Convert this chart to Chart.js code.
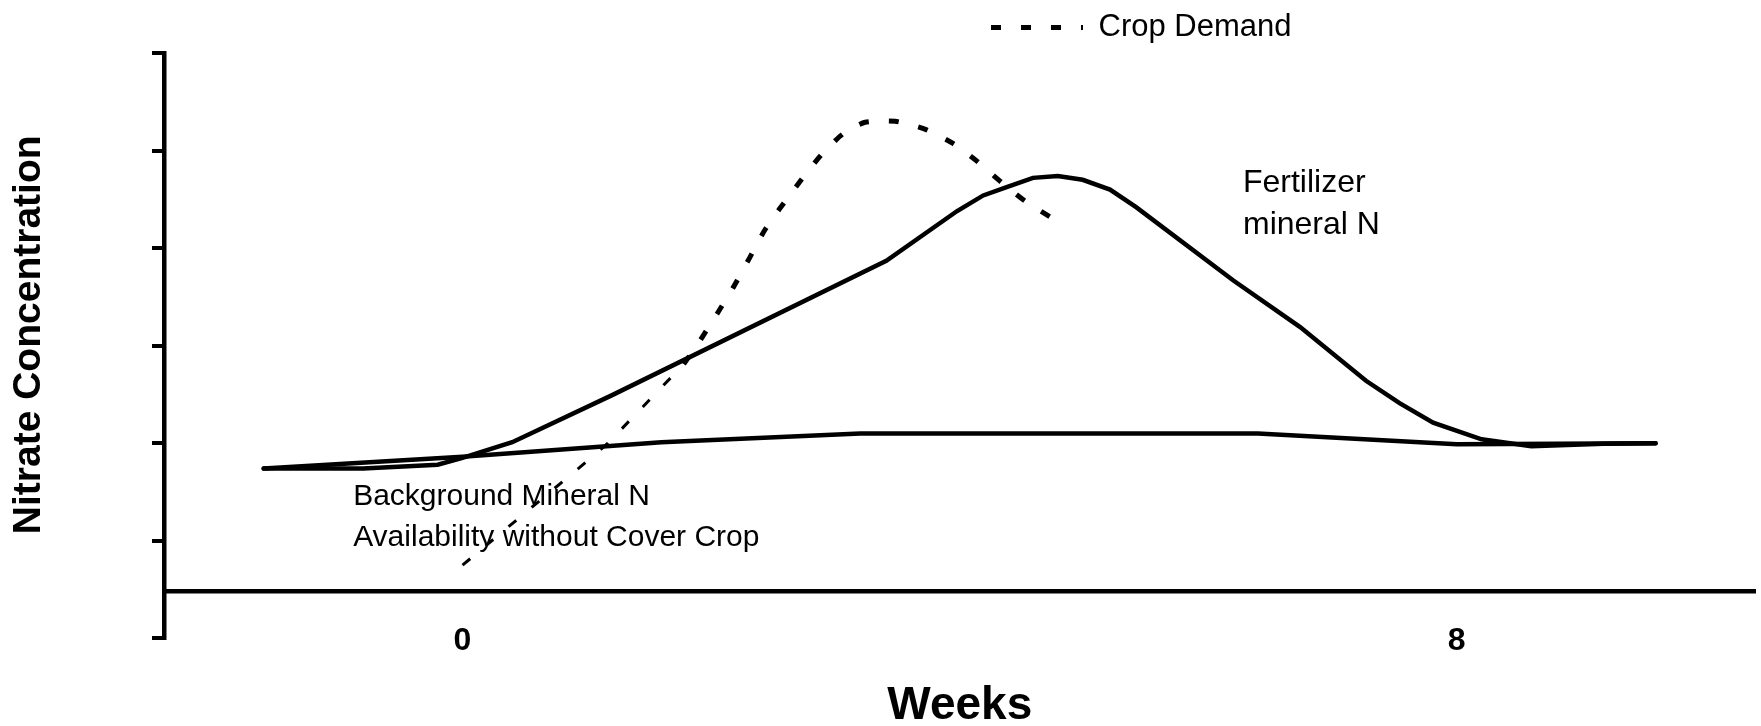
<!DOCTYPE html>
<html>
<head>
<meta charset="utf-8">
<title>Nitrate Concentration</title>
<script src="https://cdn.jsdelivr.net/npm/chart.js"></script>
<style>
  html, body { margin: 0; padding: 0; background: #fff; }
  .chart-container { position: relative; width: 1761px; height: 726px; }
</style>
</head>
<body>
<div class="chart-container"><canvas id="nitrateChart"></canvas></div>
<script>
// x = weeks, y = relative nitrate level (one unit per y tick)
const backgroundWeeks = [-1.6, 0, 1.6, 3.2, 6.4, 8, 9.6];
const backgroundN = [1.74, 1.86, 2.01, 2.1, 2.1, 1.99, 2.0];

const fertilizerWeeks = [-1.6, -0.8, -0.2, 0, 0.4, 1.2, 3.41, 3.98, 4.19, 4.39, 4.59, 4.79, 4.99, 5.21, 5.42, 6.2, 6.74, 7.27, 7.54, 7.81, 8.2, 8.6, 9.18, 9.6];
const fertilizerN = [1.74, 1.74, 1.78, 1.85, 2.01, 2.49, 3.87, 4.38, 4.54, 4.63, 4.72, 4.74, 4.7, 4.6, 4.42, 3.67, 3.19, 2.64, 2.41, 2.21, 2.04, 1.97, 1.995, 2.0];

// crop demand: thin early part, then the main curve
const cropEarlyWeeks = [0, 0.95, 1.17, 1.78];
const cropEarlyN = [0.75, 1.76, 2.0, 2.81];
const cropWeeks = [1.78, 1.91, 2.05, 2.18, 2.31, 2.43, 2.55, 2.72, 2.89, 3.06, 3.24, 3.48, 3.72, 3.95, 4.15, 4.34, 4.54, 4.78];
const cropN = [2.81, 3.05, 3.33, 3.6, 3.9, 4.18, 4.4, 4.69, 4.96, 5.17, 5.29, 5.3, 5.22, 5.07, 4.88, 4.67, 4.47, 4.28];

const weekTicks = [0, 8];
const xAxisLevel = 0.484;

const notes = [
	{ lines: ["Background Mineral N", "Availability without Cover Crop"], week: -0.88, level: 1.364, size: 30, gap: 41 },
	{ lines: ["Fertilizer", "mineral N"], week: 6.28, level: 4.57, size: 32, gap: 41.6 },
];

const FONT = "'Liberation Sans', Arial, sans-serif";
Chart.defaults.font.family = FONT;
Chart.defaults.color = "#000";

function toPoints(xs, ys) {
	return xs.map((x, i) => ({ x: x, y: ys[i] }));
}

// text notes inside the plot, anchored in data units
const noteLabels = {
	id: "noteLabels",
	beforeDatasetsDraw(chart) {
		const { ctx, scales } = chart;
		ctx.save();
		ctx.fillStyle = "#000";
		ctx.textAlign = "left";
		ctx.textBaseline = "alphabetic";
		notes.forEach((n) => {
			ctx.font = n.size + "px " + FONT;
			const x = scales.x.getPixelForValue(n.week);
			const y = scales.y.getPixelForValue(n.level);
			n.lines.forEach((line, i) => ctx.fillText(line, x, y + i * n.gap));
		});
		ctx.restore();
	},
};

// legend sits over the right half, not at the left edge
const legendNudge = {
	id: "legendNudge",
	afterLayout(chart) {
		const lg = chart.legend;
		const w = lg.right - lg.left;
		lg.left = 981;
		lg.right = lg.left + w;
	},
};

const lineBase = {
	borderColor: "#000",
	backgroundColor: "#000",
	pointRadius: 0,
	fill: false,
};

new Chart(document.getElementById("nitrateChart"), {
	type: "line",
	data: {
		datasets: [
			{ ...lineBase, label: "Background Mineral N", data: toPoints(backgroundWeeks, backgroundN), borderWidth: 4.5, borderCapStyle: "round", tension: 0 },
			{ ...lineBase, label: "Fertilizer mineral N", data: toPoints(fertilizerWeeks, fertilizerN), borderWidth: 4.5, borderCapStyle: "round", tension: 0 },
			{ ...lineBase, label: "Crop Demand early", data: toPoints(cropEarlyWeeks, cropEarlyN), borderWidth: 3, borderDash: [10, 20], tension: 0 },
			{ ...lineBase, label: "Crop Demand", data: toPoints(cropWeeks, cropN), borderWidth: 5, borderDash: [10, 20], tension: 0.2 },
		],
	},
	options: {
		responsive: true,
		maintainAspectRatio: false,
		animation: false,
		devicePixelRatio: 1,
		layout: { padding: { top: 2, right: 5.5, bottom: 0, left: 0 } },
		scales: {
			x: {
				type: "linear",
				position: "bottom",
				min: -2.402,
				max: 10.404,
				grid: { display: false, drawTicks: false },
				border: { display: false },
				ticks: { display: false },
				title: {
					display: true,
					text: "Weeks",
					font: { size: 46, weight: "bold", lineHeight: 0.8 },
					padding: { top: 49.9, bottom: 1 },
				},
			},
			// the horizontal axis line sits above the bottom of the y axis
			xLine: {
				type: "linear",
				position: { y: xAxisLevel },
				min: -2.402,
				max: 10.404,
				afterBuildTicks: (scale) => {
					scale.ticks = weekTicks.map((v) => ({ value: v }));
				},
				grid: { display: false, drawTicks: false },
				ticks: { font: { size: 32, weight: "bold" }, padding: 31.3, maxRotation: 0 },
				border: { display: true, color: "#000", width: 4.5 },
			},
			y: {
				type: "linear",
				position: "left",
				min: 0,
				max: 6,
				ticks: { display: false, stepSize: 1 },
				grid: { drawOnChartArea: false, drawTicks: true, tickLength: 12, color: "#000", lineWidth: 4 },
				border: { display: true, color: "#000", width: 4.5 },
				title: {
					display: true,
					text: "  Nitrate Concentration",
					font: { size: 39, weight: "bold" },
					padding: { top: 6, bottom: 99.2 },
				},
			},
		},
		plugins: {
			tooltip: { enabled: false },
			legend: {
				position: "top",
				align: "start",
				labels: {
					usePointStyle: true,
					pointStyle: "line",
					pointStyleWidth: 92,
					padding: 10,
					font: { size: 31 },
					color: "#000",
					generateLabels: (chart) =>
						Chart.defaults.plugins.legend.labels
							.generateLabels(chart)
							.filter((item) => item.text === "Crop Demand")
							.map((item) => {
								const ds = chart.data.datasets[item.datasetIndex];
								item.lineDash = ds.borderDash;
								item.lineDashOffset = 0;
								item.lineWidth = ds.borderWidth;
								return item;
							}),
				},
			},
		},
	},
	plugins: [noteLabels, legendNudge],
});
</script>
</body>
</html>
